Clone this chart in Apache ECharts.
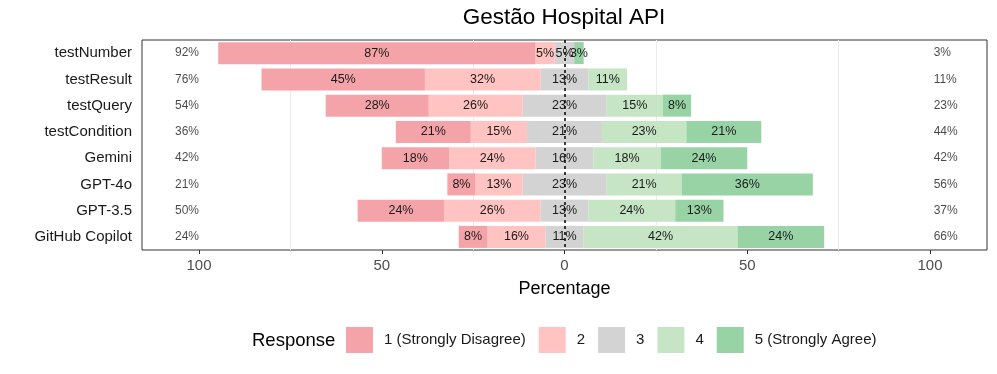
<!DOCTYPE html>
<html>
<head>
<meta charset="utf-8">
<script src="https://cdn.jsdelivr.net/npm/echarts@6/dist/echarts.min.js"></script>
<style>
  html, body { margin: 0; padding: 0; background: #fff; }
  #chart { width: 997px; height: 374px; }
</style>
</head>
<body>
<div id="chart"></div>
<script>
const categories = ['testNumber', 'testResult', 'testQuery', 'testCondition', 'Gemini', 'GPT-4o', 'GPT-3.5', 'GitHub Copilot']
// percentages per response level
const level1 = [86.8, 44.7, 28.2, 20.5, 18.4, 7.7, 23.7, 7.9]
const level2 = [5.3, 31.6, 25.6, 15.4, 23.7, 12.8, 26.3, 15.8]
const level3 = [5.3, 13.2, 23.1, 20.5, 15.8, 23.1, 13.2, 10.5]
const level4 = [0, 10.5, 15.4, 23.1, 18.4, 20.5, 23.7, 42.1]
const level5 = [2.6, 0, 7.7, 20.5, 23.7, 35.9, 13.2, 23.7]
const levelNames = ['1 (Strongly Disagree)', '2', '3', '4', '5 (Strongly Agree)']
const xTicks = [-100, -50, 0, 50, 100]
const gridTicks = [-75, -25, 25, 75]

const colors = ['#F4A3A8', '#FFC3C1', '#D3D3D3', '#C5E5C5', '#97D3A5']
const font = 'Liberation Sans, Arial, sans-serif'

const pct = v => Math.round(Math.round(v * 10) / 10) + '%'

const lowTotals = level1.map((v, i) => pct(v + level2[i]))
const highTotals = level4.map((v, i) => pct(v + level5[i]))

const barLabel = (vals) => ({
  show: true,
  fontSize: 12.5,
  fontFamily: font,
  color: '#1a1a1a',
  formatter: p => vals[p.dataIndex] > 0 ? pct(vals[p.dataIndex]) : ''
})

const makeBar = (name, data, color, label) => ({
  name,
  type: 'bar',
  stack: 'total',
  barWidth: 22,
  z: 2,
  data,
  itemStyle: { color },
  label: label || { show: false },
  emphasis: { disabled: true }
})

const neutralLabel = Object.assign(barLabel(level3), {
  position: [0, '50%'],
  align: 'center',
  verticalAlign: 'middle'
})

const totalLabel = (align) => ({
  show: true, position: 'inside', align,
  fontSize: 12, color: '#1a1a1a',
  formatter: p => p.value[2]
})

const chart = echarts.init(document.getElementById('chart'))

chart.setOption({
  animation: false,
  textStyle: { fontFamily: font },
  grid: {
    left: 142, right: 10, top: 40, bottom: 124,
    show: true, borderColor: '#333', borderWidth: 1
  },
  xAxis: {
    type: 'value',
    min: -115.6,
    max: 115.6,
    axisLine: { show: false },
    splitLine: { show: false },
    axisTick: { show: true, customValues: xTicks, length: 4, lineStyle: { color: '#333' } },
    axisLabel: {
      customValues: xTicks,
      formatter: v => Math.abs(v),
      fontSize: 15,
      color: '#4d4d4d',
      margin: 8
    },
    name: 'Percentage',
    nameLocation: 'middle',
    nameGap: 30,
    nameTextStyle: { fontSize: 18, color: '#000' }
  },
  yAxis: {
    type: 'category',
    inverse: true,
    data: categories,
    axisLine: { show: false },
    axisTick: { show: true, alignWithLabel: true, length: 4, lineStyle: { color: '#333' } },
    axisLabel: { fontSize: 15, color: '#1a1a1a', margin: 10 }
  },
  legend: {
    data: levelNames,
    left: 346,
    top: 327,
    padding: 0,
    icon: 'rect',
    itemWidth: 27,
    itemHeight: 26,
    itemGap: 13,
    selectedMode: false,
    textStyle: { fontSize: 15, color: '#1a1a1a', padding: [0, 0, 0, 6] }
  },
  graphic: [
    {
      type: 'text', x: 564, y: 18,
      style: {
        text: 'Gestão Hospital API', fontSize: 22.5, fill: '#000', fontFamily: font,
        textAlign: 'center', textVerticalAlign: 'middle'
      }
    },
    {
      type: 'text', x: 252, y: 341,
      style: {
        text: 'Response', fontSize: 18.5, fill: '#000', fontFamily: font,
        textVerticalAlign: 'middle'
      }
    }
  ],
  series: [
    {
      // light vertical guides behind the bars
      type: 'line',
      data: [],
      z: 1,
      silent: true,
      markLine: {
        z: 1,
        silent: true,
        symbol: 'none',
        label: { show: false },
        lineStyle: { color: '#ebebeb', type: 'solid', width: 1 },
        data: gridTicks.map(v => ({ xAxis: v }))
      }
    },
    makeBar('3', level3.map(v => -v / 2), colors[2]),
    makeBar('3', level3.map(v => v / 2), colors[2], neutralLabel),
    makeBar(levelNames[1], level2.map(v => -v), colors[1], barLabel(level2)),
    makeBar(levelNames[3], level4, colors[3], barLabel(level4)),
    makeBar(levelNames[0], level1.map(v => -v), colors[0], barLabel(level1)),
    makeBar(levelNames[4], level5, colors[4], barLabel(level5)),
    {
      type: 'scatter',
      symbolSize: 0,
      z: 5,
      silent: true,
      data: categories.map((c, i) => [-100, c, lowTotals[i]]),
      label: totalLabel('right')
    },
    {
      type: 'scatter',
      symbolSize: 0,
      z: 5,
      silent: true,
      data: categories.map((c, i) => [101, c, highTotals[i]]),
      label: totalLabel('left'),
      markLine: {
        z: 6,
        silent: true,
        symbol: 'none',
        label: { show: false },
        lineStyle: { color: '#000', type: [3, 3], width: 1.5 },
        data: [{ xAxis: 0 }]
      }
    }
  ]
})
</script>
</body>
</html>
